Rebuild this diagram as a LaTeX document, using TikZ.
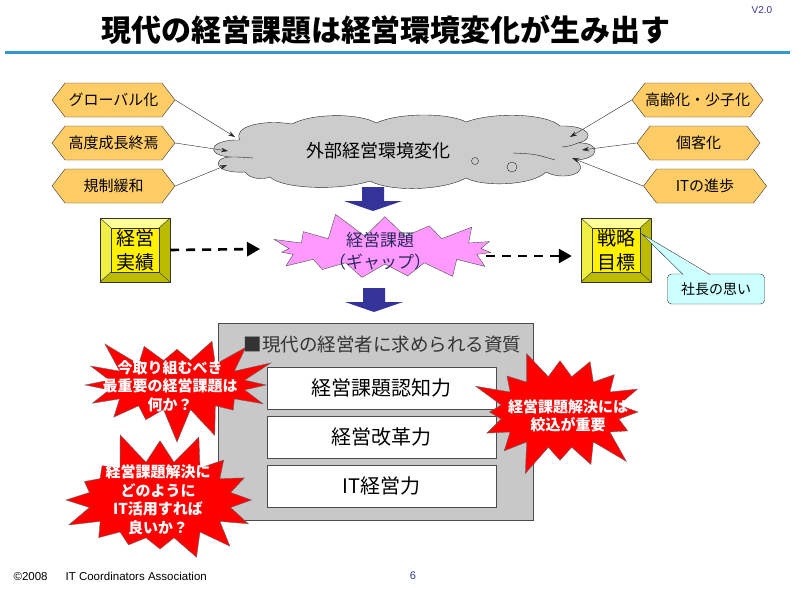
\documentclass[tikz,border=0pt]{standalone}
\usepackage{fontspec}
\setmainfont{Noto Sans CJK JP}
\newfontfamily\arial{Liberation Sans}
\usetikzlibrary{shapes.symbols,arrows.meta,positioning}
\definecolor{HexOrange}{HTML}{FFCC66}
\definecolor{CloudGray}{HTML}{CCCCCC}
\definecolor{BoxGray}{HTML}{C8C8C8}
\definecolor{Navy}{HTML}{333399}
\definecolor{GapPink}{HTML}{FF99FF}
\definecolor{GapText}{HTML}{2A2A5A}
\definecolor{TitleBlue}{HTML}{3399CC}
\definecolor{BevLight}{HTML}{FFFF99}
\definecolor{BevMid}{HTML}{EEEE44}
\definecolor{BevDark}{HTML}{BBBB00}
\definecolor{CallCyan}{HTML}{CCFFFF}
\newcommand{\fs}[1]{\fontsize{#1}{#1}\selectfont}
% beveled yellow box: name, x, y, text
\newcommand{\bevbox}[4]{%
  \fill[BevLight] (#2-35,#3-32) -- (#2+35,#3-32) -- (#2+24,#3-22) -- (#2-24,#3-22) -- cycle;
  \fill[BevMid] (#2-35,#3-32) -- (#2-24,#3-22) -- (#2-24,#3+22) -- (#2-35,#3+32) -- cycle;
  \fill[BevDark] (#2+35,#3-32) -- (#2+35,#3+32) -- (#2+24,#3+22) -- (#2+24,#3-22) -- cycle;
  \fill[BevDark] (#2-35,#3+32) -- (#2+35,#3+32) -- (#2+24,#3+22) -- (#2-24,#3+22) -- cycle;
  \draw[black!80] (#2-35,#3-32) -- (#2-24,#3-22) (#2+35,#3-32) -- (#2+24,#3-22)
    (#2-35,#3+32) -- (#2-24,#3+22) (#2+35,#3+32) -- (#2+24,#3+22);
  \draw[black!80,fill=yellow] (#2-24,#3-22) rectangle (#2+24,#3+22);
  \node[bevel] (#1) at (#2,#3) {#4};
}

\begin{document}
\begin{tikzpicture}[x=1pt,y=-1pt,
  hexa/.style={signal, signal to=east and west, signal pointer angle=105,
    fill=HexOrange, draw=black!80, minimum width=123pt, minimum height=34pt,
    inner sep=0pt, font=\fs{15}},
  feed/.style={-{Stealth[length=7pt,width=4.5pt]}, black!85},
  bevel/.style={draw=black!80, minimum width=70pt, minimum height=64pt,
    align=center, font=\fontsize{19}{24}\selectfont},
  plan/.style={line width=2.6pt, dash pattern=on 9pt off 7pt,
    -{Triangle[length=13pt,width=14pt]}},
  boom/.style={starburst, starburst points=16, starburst point height=34pt,
    fill=red, draw=black!60, inner sep=0pt},
  boomtxt/.style={text=white, align=center, font=\fontsize{15}{18.5}\selectfont\bfseries},
  ability/.style={draw=black!70, fill=white, minimum width=229pt,
    minimum height=42pt, font=\fs{20}}
]
\useasboundingbox (0,0) rectangle (801,589);

% title
\node[font=\fs{30}\bfseries] (title) at (386,30) {現代の経営課題は経営環境変化が生み出す};
\node[font=\arial\fs{10}, text=Navy] (ver) at (762,10) {V2.0};
\draw[TitleBlue, line width=3pt] (5,52) -- (790,52);

% external environment (cloud)
\draw[black!85, fill=CloudGray] (245,172)
  .. controls (214,174) and (211,158) .. (230,157)
  .. controls (204,155) and (210,139) .. (240,140)
  .. controls (232,127) and (262,119) .. (292,124)
  .. controls (312,113) and (360,113) .. (376,123)
  .. controls (400,112) and (450,113) .. (466,122)
  .. controls (492,112) and (546,113) .. (560,126)
  .. controls (590,125) and (596,139) .. (578,143)
  .. controls (601,142) and (601,159) .. (576,160)
  .. controls (592,174) and (562,181) .. (546,172)
  .. controls (532,186) and (482,187) .. (466,178)
  .. controls (442,191) and (390,192) .. (370,181)
  .. controls (340,191) and (282,189) .. (270,177)
  .. controls (262,180) and (250,179) .. (245,172) -- cycle;
\draw[black!85] (230,157) .. controls (240,157) .. (253,158);
\draw[black!85] (513,153) .. controls (535,154) .. (555,160);
\draw[black!85] (562,147) .. controls (570,146) .. (578,143);
\draw[black!85] (475,161) circle (3.5);
\draw[black!85] (512,167) circle (5);
\node[font=\fs{18}] (envtxt) at (378,151) {外部経営環境変化};

\node[hexa] (glob) at (113.5,100) {グローバル化};
\node[hexa] (grow) at (113.5,143) {高度成長終焉};
\node[hexa] (dereg) at (113.5,186) {規制緩和};
\node[hexa] (aging) at (697.5,100) {高齢化・少子化};
\node[hexa] (indiv) at (698.5,143) {個客化};
\node[hexa] (itadv) at (705,186) {ITの進歩};

\coordinate (envL1) at (235,137);
\coordinate (envL2) at (228,151);
\coordinate (envL3) at (227,165);
\coordinate (envR1) at (570,137);
\coordinate (envR2) at (582,150);
\coordinate (envR3) at (572,158);
\draw[feed] (glob.east) -- (envL1);
\draw[feed] (grow.east) -- (envL2);
\draw[feed] (dereg.east) -- (envL3);
\draw[feed] (aging.west) -- (envR1);
\draw[feed] (indiv.west) -- (envR2);
\draw[feed] (itadv.west) -- (envR3);

% block arrows
\foreach \ax/\ay in {373/187, 374/288}
  \fill[Navy] (\ax-11,\ay) -- (\ax+11,\ay) -- (\ax+11,\ay+14) -- (\ax+29,\ay+14)
    -- (\ax,\ay+24) -- (\ax-29,\ay+14) -- (\ax-11,\ay+14) -- cycle;

% gap
\bevbox{jisseki}{135}{250}{経営\\実績}
\bevbox{mokuhyo}{616}{250}{戦略\\目標}
\draw[plan] (jisseki.east) -- (260,249);
\draw[plan] (486,256) -- ([xshift=-9pt]mokuhyo.west |- 0,256);
\node[starburst, starburst points=15, starburst point height=26pt, random starburst=11,
  fill=GapPink, draw=black!70, minimum width=245pt, minimum height=80pt,
  inner sep=0pt] (gap) at (385,250) {};
\node[text=GapText, align=center, font=\fontsize{17}{22}\selectfont] (gaptxt) at (380,251)
  {経営課題\\（ギャップ）};

% callout
\node[draw=black!80, fill=CallCyan, rounded corners=4pt, minimum width=97pt,
  minimum height=30pt, font=\fs{14}] (omoi) at (716,289) {社長の思い};
\coordinate (omoitip) at (642,234);
\fill[CallCyan] (omoitip) -- (683,276) -- (710,276) -- cycle;
\draw[black!80] (683,274.5) -- (omoitip) -- (710,274.5);

% required qualities
\node[draw=black!70, fill=BoxGray, minimum width=315pt, minimum height=197pt]
  (shishitsu) at (375.5,421.5) {};
\foreach \t [count=\i] in {経営課題認知力, 経営改革力, IT経営力}
  \node[ability] (abl\i) at (381.5,339+49*\i) {\t};

% questions
\node[boom, random starburst=3, minimum width=206pt, minimum height=118pt] (kadai) at (177,385) {};
\node[boomtxt] (kadaitxt) at (170,386) {今取り組むべき\\最重要の経営課題は\\何か？};
\node[boom, random starburst=5, minimum width=212pt, minimum height=145pt] (katsuyo) at (160,500) {};
\node[boomtxt] (katsuyotxt) at (158,500) {経営課題解決に\\どのように\\IT活用すれば\\良いか？};
\node[boom, random starburst=9, minimum width=188pt, minimum height=140pt] (shibori) at (560,412) {};
\node[boomtxt] (shiboritxt) at (568,416) {経営課題解決には\\絞込が重要};

\node[anchor=west, text=black!80, font=\fs{18.5}] (shhead) at (240,345)
  {■現代の経営者に求められる資質};

% footer
\node[anchor=west, font=\arial\fs{11.5}] (copy) at (10,576)
  {©2008\hspace{18pt}IT Coordinators Association};
\node[font=\arial\fs{11}, text=Navy] (page) at (413,576) {6};
\end{tikzpicture}
\end{document}
